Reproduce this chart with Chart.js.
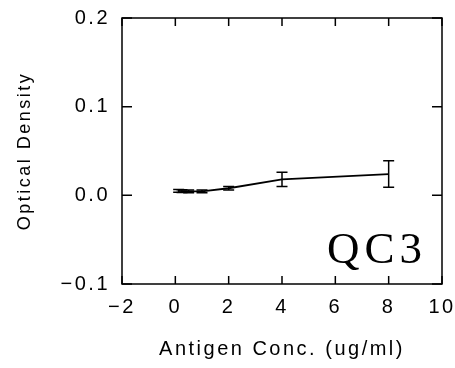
<!DOCTYPE html>
<html>
<head>
<meta charset="utf-8">
<script src="https://cdn.jsdelivr.net/npm/chart.js@4"></script>
<style>
  html, body { margin: 0; padding: 0; background: #fff; }
  #wrap { width: 455px; height: 368px; }
</style>
</head>
<body>
<div id="wrap"><canvas id="odChart"></canvas></div>
<script>
// data
const concValues = [0.125, 0.25, 0.5, 1, 2, 4, 8];
const odValues = [0.005, 0.0048, 0.0045, 0.0045, 0.008, 0.018, 0.024];
const odErrors = [0.0015, 0.0015, 0.0015, 0.0015, 0.002, 0.008, 0.015];
const xTicks = [-2, 0, 2, 4, 6, 8, 10];
const yTicks = [-0.1, 0.0, 0.1, 0.2];
const panelLabel = "QC3";

const FONT = '"Liberation Sans", Arial, Helvetica, sans-serif';

// error bars with caps
const errorBars = {
    id: 'errorBars',
    afterDatasetsDraw(chart) {
        const { ctx, scales: { x, y } } = chart;
        ctx.save();
        ctx.strokeStyle = '#000';
        ctx.lineWidth = 1.5;
        concValues.forEach((c, i) => {
            const px = x.getPixelForValue(c);
            const top = y.getPixelForValue(odValues[i] + odErrors[i]);
            const bot = y.getPixelForValue(odValues[i] - odErrors[i]);
            ctx.beginPath();
            ctx.moveTo(px, top); ctx.lineTo(px, bot);
            ctx.moveTo(px - 5.5, top); ctx.lineTo(px + 5.5, top);
            ctx.moveTo(px - 5.5, bot); ctx.lineTo(px + 5.5, bot);
            ctx.stroke();
        });
        ctx.restore();
    }
};

// box frame with inward ticks on every side + panel label
const frame = {
    id: 'frame',
    beforeDraw(chart) {
        chart.ctx.letterSpacing = '2.5px';
    },
    afterDraw(chart) {
        const { ctx, chartArea: a, scales: { x, y } } = chart;
        ctx.save();
        ctx.letterSpacing = '0px';
        ctx.strokeStyle = '#000';
        ctx.lineWidth = 1.5;
        ctx.strokeRect(a.left, a.top, a.right - a.left, a.bottom - a.top);
        ctx.beginPath();
        xTicks.forEach(v => {
            const px = x.getPixelForValue(v);
            ctx.moveTo(px, a.bottom); ctx.lineTo(px, a.bottom - 8);
            ctx.moveTo(px, a.top); ctx.lineTo(px, a.top + 8);
        });
        yTicks.forEach(v => {
            const py = y.getPixelForValue(v);
            ctx.moveTo(a.left, py); ctx.lineTo(a.left + 10, py);
            ctx.moveTo(a.right, py); ctx.lineTo(a.right - 10, py);
        });
        ctx.stroke();

        ctx.fillStyle = '#000';
        ctx.font = '45px "Liberation Serif", "DejaVu Serif", serif';
        ctx.letterSpacing = '5px';
        ctx.textAlign = 'left';
        ctx.textBaseline = 'alphabetic';
        ctx.fillText(panelLabel, a.right - 115, a.bottom - 21);
        ctx.restore();
        ctx.letterSpacing = '0px';
    }
};

new Chart(document.getElementById('odChart'), {
    type: 'line',
    data: {
        datasets: [{
            data: concValues.map((c, i) => ({ x: c, y: odValues[i] })),
            borderColor: '#000',
            borderWidth: 1.8,
            pointRadius: 0,
            tension: 0,
            fill: false
        }]
    },
    options: {
        responsive: true,
        maintainAspectRatio: false,
        animation: false,
        layout: { padding: { left: 0, right: 13, top: 18, bottom: 0 } },
        plugins: { legend: { display: false }, tooltip: { enabled: false } },
        scales: {
            x: {
                type: 'linear',
                min: -2, max: 10,
                afterBuildTicks: s => { s.ticks = xTicks.map(v => ({ value: v })); },
                afterFit: s => { s.height = 84; s.paddingLeft = 0; s.paddingRight = 0; },
                grid: { display: false, drawTicks: false },
                border: { display: false },
                ticks: {
                    color: '#000', padding: 11, maxRotation: 0, autoSkip: false,
                    font: { family: FONT, size: 20 },
                    callback: v => String(v).replace('-', '\u2212')
                },
                title: {
                    display: true, text: 'Antigen Conc. (ug/ml)', color: '#000',
                    font: { family: FONT, size: 20 }, padding: { top: 0, bottom: 7 }
                }
            },
            y: {
                min: -0.1, max: 0.2,
                afterBuildTicks: s => { s.ticks = yTicks.map(v => ({ value: v })); },
                afterFit: s => { s.width = 122; s.paddingTop = 0; s.paddingBottom = 0; },
                grid: { display: false, drawTicks: false },
                border: { display: false },
                ticks: {
                    color: '#000', padding: 12, autoSkip: false,
                    font: { family: FONT, size: 20 },
                    callback: v => v.toFixed(1).replace('-', '\u2212')
                },
                title: {
                    display: true, text: 'Optical Density', color: '#000',
                    font: { family: FONT, size: 18 }, padding: { top: 14, bottom: 0 }
                }
            }
        }
    },
    plugins: [errorBars, frame]
});
</script>
</body>
</html>
